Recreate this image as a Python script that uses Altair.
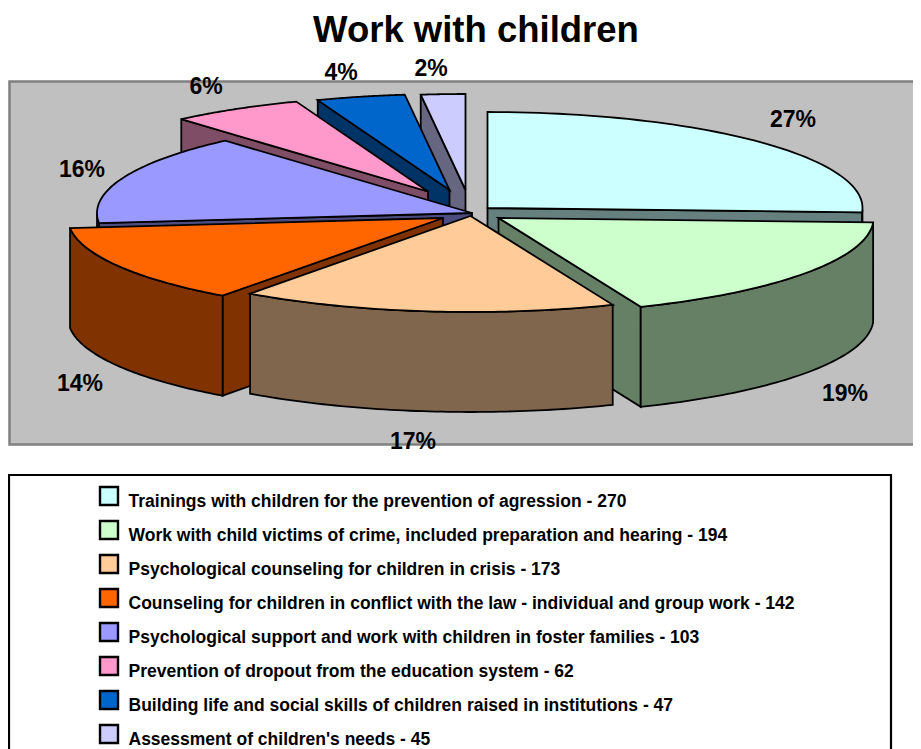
import numpy as np
import pandas as pd
import altair as alt

TITLE = "Work with children"
categories = [
    "Trainings with children for the prevention of agression - 270",
    "Work with child victims of crime, included preparation and hearing - 194",
    "Psychological counseling for children in crisis - 173",
    "Counseling for children in conflict with the law - individual and group work - 142",
    "Psychological support and work with children in foster families - 103",
    "Prevention of dropout from the education system - 62",
    "Building life and social skills of children raised in institutions - 47",
    "Assessment of children's needs - 45",
]
percents = [27, 19, 17, 14, 16, 6, 4, 2]
top_colors = ["#CCFFFF", "#CCFFCC", "#FFCC99", "#FF6600", "#9999FF", "#FF99CC", "#0066CC", "#CCCCFF"]
side_colors = ["#668080", "#668066", "#80664D", "#803300", "#4D4D80", "#804D66", "#003366", "#666680"]

# pie geometry in page pixels
apex_x = [487.5, 498.5, 470.5, 443, 472, 428, 449.5, 465.5]
apex_y = [208, 218, 216, 218, 213, 191.5, 190, 190]
RX, RY, DEPTH = 375, 96, 100
draw_order = [7, 6, 5, 0, 4, 1, 3, 2]

label_x = [793, 845, 413, 80, 82, 206, 341, 431]
label_y = [120, 394, 442, 384, 170, 87, 73, 69]

W, H = 905, 741
xs = alt.Scale(domain=[8, 8 + W], nice=False, zero=False)
ys = alt.Scale(domain=[8 + H, 8], nice=False, zero=False)
X = lambda f="x": alt.X(f"{f}:Q", scale=xs, axis=None)
Y = lambda f="y": alt.Y(f"{f}:Q", scale=ys, axis=None)


def polygon(px, py, fill):
    df = pd.DataFrame({"x": px, "y": py, "i": np.arange(len(px))})
    return alt.Chart(df).mark_line(
        fill=fill, stroke="black", strokeWidth=1.8, interpolate="linear-closed", strokeJoin="miter", clip=False
    ).encode(x=X(), y=Y(), order="i:Q")


edges = np.cumsum([0] + percents) / sum(percents) * 2 * np.pi
layers = []

# plot background (runs off the right edge of the drawing, as in the reference)
layers.append(alt.Chart(pd.DataFrame({"x": [9.5], "x2": [930], "y": [81.5], "y2": [444.5]})).mark_rect(
    fill="#C0C0C0", stroke="#808080", strokeWidth=2.5, clip=True
).encode(x=X(), x2="x2:Q", y=Y(), y2="y2:Q"))

for s in draw_order:
    cx, cy = apex_x[s], apex_y[s]
    t = np.linspace(edges[s], edges[s + 1], 60)
    ax = cx + RX * np.sin(t)
    ay = cy - RY * np.cos(t)
    # radial walls, only those facing the viewer
    if np.sin(t[0]) < 0:
        layers.append(polygon([cx, ax[0], ax[0], cx],
                              [cy, ay[0], ay[0] + DEPTH, cy + DEPTH], side_colors[s]))
    if np.sin(t[-1]) > 0:
        layers.append(polygon([cx, ax[-1], ax[-1], cx],
                              [cy, ay[-1], ay[-1] + DEPTH, cy + DEPTH], side_colors[s]))
    # outer wall: only the part facing the viewer
    front = np.cos(t) <= 0.0
    if front.any():
        fx, fy = ax[front], ay[front]
        layers.append(polygon(np.r_[fx, fx[::-1]], np.r_[fy, fy[::-1] + DEPTH], side_colors[s]))
    # top face
    layers.append(polygon(np.r_[cx, ax], np.r_[cy, ay], top_colors[s]))

# percent labels
labels = pd.DataFrame({"x": label_x, "y": label_y, "t": [f"{p}%" for p in percents]})
layers.append(alt.Chart(labels).mark_text(
    font="Liberation Sans", fontWeight="bold", fontSize=23, color="black", align="center", baseline="middle"
).encode(x=X(), y=Y(), text="t:N"))

# title
layers.append(alt.Chart(pd.DataFrame({"x": [476], "y": [31], "t": [TITLE]})).mark_text(
    font="Liberation Sans", fontWeight="bold", fontSize=36.5, color="black", align="center", baseline="middle"
).encode(x=X(), y=Y(), text="t:N"))

# legend box
layers.append(alt.Chart(pd.DataFrame({"x": [9], "x2": [891], "y": [475], "y2": [760]})).mark_rect(
    fill="white", stroke="black", strokeWidth=2.2
).encode(x=X(), x2="x2:Q", y=Y(), y2="y2:Q"))

rows = np.arange(len(categories))
leg = pd.DataFrame({
    "i": rows, "t": categories, "c": top_colors,
    "x": 100.0, "x2": 118.0, "y": 487 + 34 * rows, "y2": 505 + 34 * rows,
    "tx": 128.5, "ty": 502 + 34 * rows,
})
layers.append(alt.Chart(leg).mark_rect(stroke="black", strokeWidth=2.4).encode(
    x=X(), x2="x2:Q", y=Y(), y2="y2:Q", fill=alt.Fill("c:N", scale=None)))
layers.append(alt.Chart(leg).mark_text(
    font="Liberation Sans", fontWeight="bold", fontSize=17.5, color="black", align="left", baseline="middle"
).encode(x=X("tx"), y=Y("ty"), text="t:N"))

chart = alt.layer(*layers).properties(
    width=W, height=H, padding=0, autosize=alt.AutoSizeParams(type="none"),
    background="white",
).configure_view(stroke=None)

chart.save("out.html", embed_options={"renderer": "svg", "actions": False})
